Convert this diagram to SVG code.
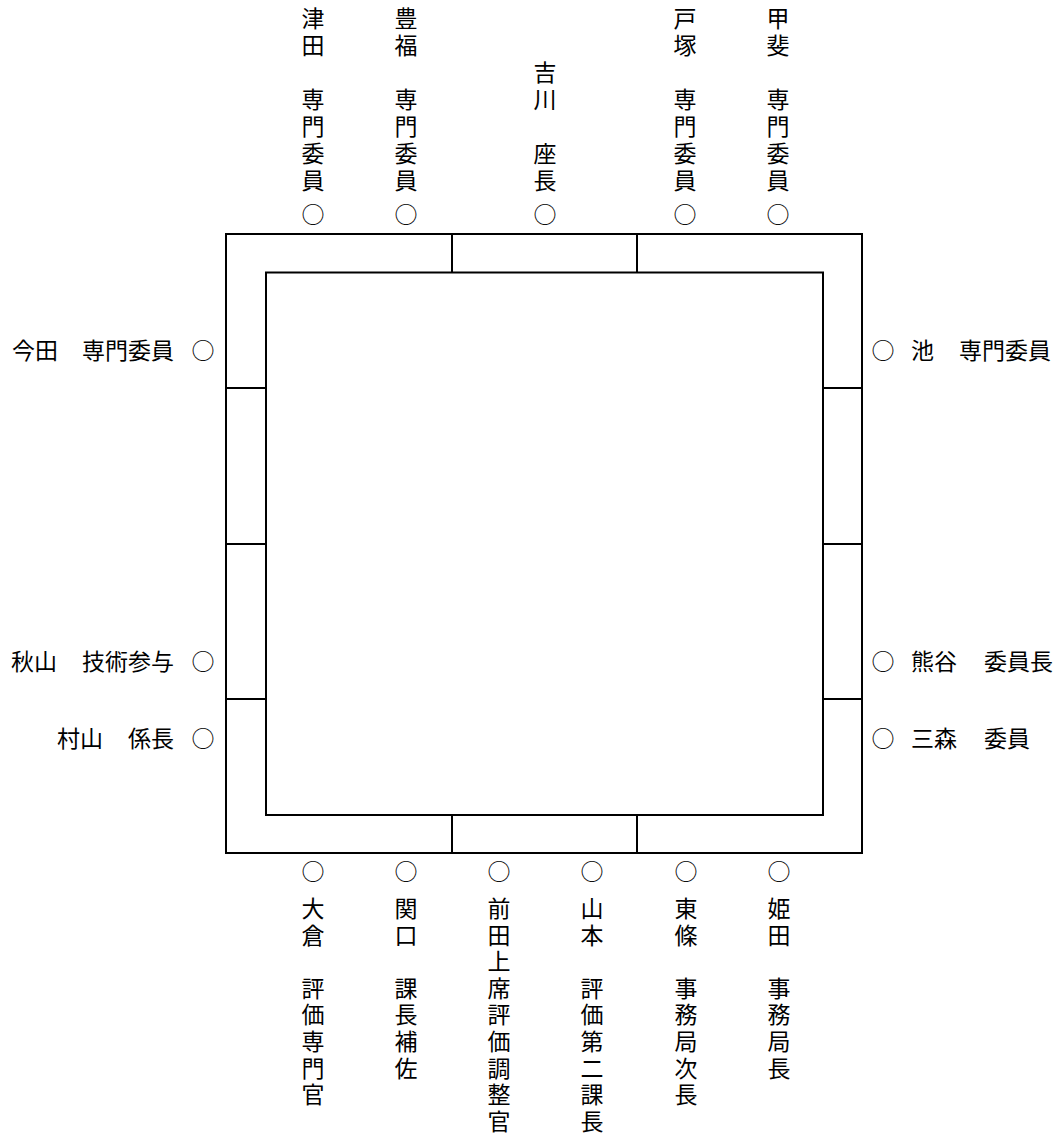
<svg xmlns="http://www.w3.org/2000/svg" width="1062" height="1135" viewBox="0 0 1062 1135">
<style>
.t{font-family:"Noto Sans CJK JP","Noto Sans CJK SC",sans-serif;font-size:23px;fill:#000}
.v{text-anchor:middle}
.e{text-anchor:end}
.ln{stroke:#000;stroke-width:2;fill:none}
</style>
<rect width="1062" height="1135" fill="#fff"/>
<g id="table">
<rect class="ln" x="226" y="234" width="636" height="619"/>
<rect class="ln" x="266" y="272.5" width="557" height="542.5"/>
<path class="ln" d="M452 234V272.5M637 234V272.5M452 815V853M637 815V853M226 388H266M226 544H266M226 699H266M823 388H862M823 544H862M823 699H862"/>
</g>
<g id="connectors"></g>
<g id="seat-tsuda"><text class="t v"><tspan x="313" y="27.2">津</tspan><tspan x="313" y="54.1">田</tspan><tspan x="313" y="107.9">専</tspan><tspan x="313" y="134.8">門</tspan><tspan x="313" y="161.7">委</tspan><tspan x="313" y="188.6">員</tspan><tspan x="313" y="222.7">○</tspan></text></g>
<g id="seat-toyofuku"><text class="t v"><tspan x="406" y="27.2">豊</tspan><tspan x="406" y="54.1">福</tspan><tspan x="406" y="107.9">専</tspan><tspan x="406" y="134.8">門</tspan><tspan x="406" y="161.7">委</tspan><tspan x="406" y="188.6">員</tspan><tspan x="406" y="222.7">○</tspan></text></g>
<g id="seat-yoshikawa"><text class="t v"><tspan x="545" y="81">吉</tspan><tspan x="545" y="107.9">川</tspan><tspan x="545" y="161.7">座</tspan><tspan x="545" y="188.6">長</tspan><tspan x="545" y="222.7">○</tspan></text></g>
<g id="seat-totsuka"><text class="t v"><tspan x="685" y="27.2">戸</tspan><tspan x="685" y="54.1">塚</tspan><tspan x="685" y="107.9">専</tspan><tspan x="685" y="134.8">門</tspan><tspan x="685" y="161.7">委</tspan><tspan x="685" y="188.6">員</tspan><tspan x="685" y="222.7">○</tspan></text></g>
<g id="seat-kai"><text class="t v"><tspan x="778" y="27.2">甲</tspan><tspan x="778" y="54.1">斐</tspan><tspan x="778" y="107.9">専</tspan><tspan x="778" y="134.8">門</tspan><tspan x="778" y="161.7">委</tspan><tspan x="778" y="188.6">員</tspan><tspan x="778" y="222.7">○</tspan></text></g>
<g id="seat-imada"><text class="t" x="12" y="358.7">今田</text><text class="t e" x="174" y="358.7">専門委員</text><text class="t v" x="203" y="358.7">○</text></g>
<g id="seat-akiyama"><text class="t" x="11" y="669.7">秋山</text><text class="t e" x="174" y="669.7">技術参与</text><text class="t v" x="203" y="669.7">○</text></g>
<g id="seat-murayama"><text class="t" x="57" y="746.7">村山</text><text class="t e" x="174" y="746.7">係長</text><text class="t v" x="203" y="746.7">○</text></g>
<g id="seat-ike"><text class="t v" x="883" y="358.7">○</text><text class="t" x="911" y="358.7">池</text><text class="t" x="959" y="358.7">専門委員</text></g>
<g id="seat-kumagai"><text class="t v" x="883" y="670.2">○</text><text class="t" x="911" y="670.2">熊谷</text><text class="t" x="984" y="670.2">委員長</text></g>
<g id="seat-mitsumori"><text class="t v" x="883" y="746.7">○</text><text class="t" x="911" y="746.7">三森</text><text class="t" x="984" y="746.7">委員</text></g>
<g id="seat-okura"><text class="t v"><tspan x="313" y="880.2">○</tspan><tspan x="313" y="917">大</tspan><tspan x="313" y="943.6">倉</tspan><tspan x="313" y="996.8">評</tspan><tspan x="313" y="1023.4">価</tspan><tspan x="313" y="1050">専</tspan><tspan x="313" y="1076.6">門</tspan><tspan x="313" y="1103.2">官</tspan></text></g>
<g id="seat-sekiguchi"><text class="t v"><tspan x="406" y="880.2">○</tspan><tspan x="406" y="917">関</tspan><tspan x="406" y="943.6">口</tspan><tspan x="406" y="996.8">課</tspan><tspan x="406" y="1023.4">長</tspan><tspan x="406" y="1050">補</tspan><tspan x="406" y="1076.6">佐</tspan></text></g>
<g id="seat-maeda"><text class="t v"><tspan x="499" y="880.2">○</tspan><tspan x="499" y="917">前</tspan><tspan x="499" y="943.6">田</tspan><tspan x="499" y="970.2">上</tspan><tspan x="499" y="996.8">席</tspan><tspan x="499" y="1023.4">評</tspan><tspan x="499" y="1050">価</tspan><tspan x="499" y="1076.6">調</tspan><tspan x="499" y="1103.2">整</tspan><tspan x="499" y="1129.8">官</tspan></text></g>
<g id="seat-yamamoto"><text class="t v"><tspan x="592" y="880.2">○</tspan><tspan x="592" y="917">山</tspan><tspan x="592" y="943.6">本</tspan><tspan x="592" y="996.8">評</tspan><tspan x="592" y="1023.4">価</tspan><tspan x="592" y="1050">第</tspan><tspan x="592" y="1076.6">二</tspan><tspan x="592" y="1103.2">課</tspan><tspan x="592" y="1129.8">長</tspan></text></g>
<g id="seat-tojo"><text class="t v"><tspan x="686" y="880.2">○</tspan><tspan x="686" y="917">東</tspan><tspan x="686" y="943.6">條</tspan><tspan x="686" y="996.8">事</tspan><tspan x="686" y="1023.4">務</tspan><tspan x="686" y="1050">局</tspan><tspan x="686" y="1076.6">次</tspan><tspan x="686" y="1103.2">長</tspan></text></g>
<g id="seat-himeda"><text class="t v"><tspan x="779" y="880.2">○</tspan><tspan x="779" y="917">姫</tspan><tspan x="779" y="943.6">田</tspan><tspan x="779" y="996.8">事</tspan><tspan x="779" y="1023.4">務</tspan><tspan x="779" y="1050">局</tspan><tspan x="779" y="1076.6">長</tspan></text></g>
</svg>
